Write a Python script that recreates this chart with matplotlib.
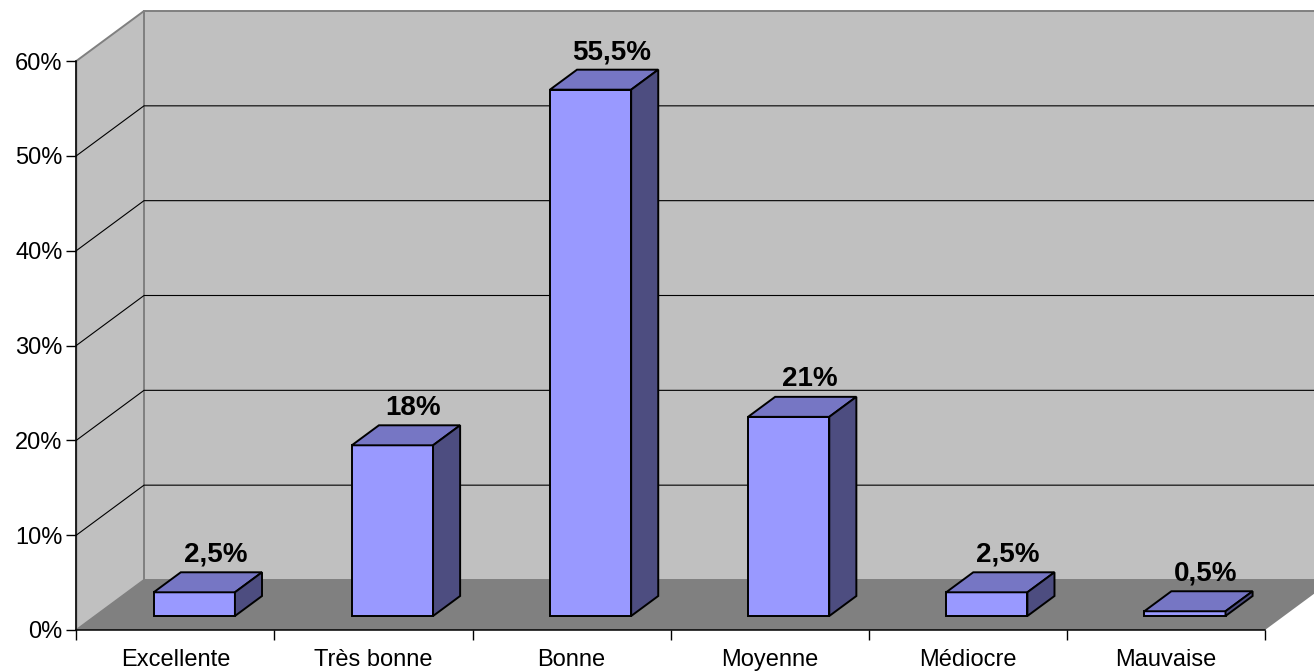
import matplotlib.pyplot as plt
from matplotlib.patches import Polygon
from matplotlib.ticker import PercentFormatter

plt.rcParams['font.family'] = ['Liberation Sans', 'DejaVu Sans']

# donnees
categories = ['Excellente', 'Très bonne', 'Bonne', 'Moyenne', 'Médiocre', 'Mauvaise']
valeurs = [2.5, 18, 55.5, 21, 2.5, 0.5]
etiquettes = ['2,5%', '18%', '55,5%', '21%', '2,5%', '0,5%']

W, H = 1314, 672
fig = plt.figure(figsize=(W / 100, H / 100), dpi=100)
# axe = plan avant du graphique 3D
x0, x1, yb, yt = 76.3, 1265, 630, 61
ax = fig.add_axes([x0 / W, (H - yb) / H, (x1 - x0) / W, (yb - yt) / H])
ncat = len(categories)
ymax = 60
ax.set_xlim(0, ncat)
ax.set_ylim(0, ymax)
ax.patch.set_visible(False)

# profondeur oblique (en unites de donnees)
px_x = (x1 - x0) / ncat
px_y = (yb - yt) / ymax
DX = 67.7 / px_x
DY = 50 / px_y

wall = '#c0c0c0'
floor = '#808080'
edge_grey = '#808080'

def poly(pts, fc, ec='none', lw=0.8, z=1):
    ax.add_patch(Polygon(pts, closed=True, facecolor=fc, edgecolor=ec,
                         linewidth=lw, clip_on=False, zorder=z, joinstyle='miter'))

# murs
poly([(DX, DY), (ncat + DX, DY), (ncat + DX, ymax + DY), (DX, ymax + DY)], wall, edge_grey, 1.4)
poly([(0, 0), (DX, DY), (DX, ymax + DY), (0, ymax)], wall, edge_grey, 1.4)

# quadrillage
for k in range(10, ymax, 10):
    ax.plot([0, DX, ncat + DX], [k, k + DY, k + DY], color='black', lw=0.8,
            clip_on=False, zorder=2)

# sol
poly([(0, 0), (ncat, 0), (ncat + DX, DY), (DX, DY)], floor, 'none', 0, 3)

# barres
d0, d1 = 0.28, 0.68
bw = 0.41
front_c, top_c, side_c = '#9999ff', '#7676c4', '#4d4d80'
for i, v in enumerate(valeurs):
    cx = i + 0.5 + d0 * DX
    xl, xr = cx - bw / 2, cx + bw / 2
    yb0 = d0 * DY
    ox, oy = (d1 - d0) * DX, (d1 - d0) * DY
    poly([(xl, yb0), (xr, yb0), (xr, yb0 + v), (xl, yb0 + v)], front_c, 'black', 1.4, 5)
    poly([(xl, yb0 + v), (xr, yb0 + v), (xr + ox, yb0 + v + oy), (xl + ox, yb0 + v + oy)],
         top_c, 'black', 1.4, 5)
    poly([(xr, yb0), (xr + ox, yb0 + oy), (xr + ox, yb0 + v + oy), (xr, yb0 + v)],
         side_c, 'black', 1.4, 5)
    ax.annotate(etiquettes[i], (i + 0.5 + 0.59 * DX, d1 * DY + v), xytext=(0, 7.5),
                textcoords='offset points', ha='center', va='baseline',
                fontsize=20, fontweight='bold', zorder=6, annotation_clip=False)

# axes
for s in ['top', 'right']:
    ax.spines[s].set_visible(False)
for s in ['left', 'bottom']:
    ax.spines[s].set_color('black')
    ax.spines[s].set_linewidth(1.1)
    ax.spines[s].set_zorder(7)

ax.set_yticks(range(0, ymax + 1, 10))
ax.yaxis.set_major_formatter(PercentFormatter(decimals=0))
ax.tick_params(axis='y', length=7, width=1, pad=3, labelsize=17)

ax.set_xticks(range(0, ncat + 1))
ax.set_xticklabels([])
ax.set_xticks([i + 0.5 for i in range(ncat)], minor=True)
ax.set_xticklabels(categories, minor=True)
ax.tick_params(axis='x', which='major', length=7, width=1)
ax.tick_params(axis='x', which='minor', length=0, pad=14, labelsize=17)

fig.savefig('out.png', dpi=100)
